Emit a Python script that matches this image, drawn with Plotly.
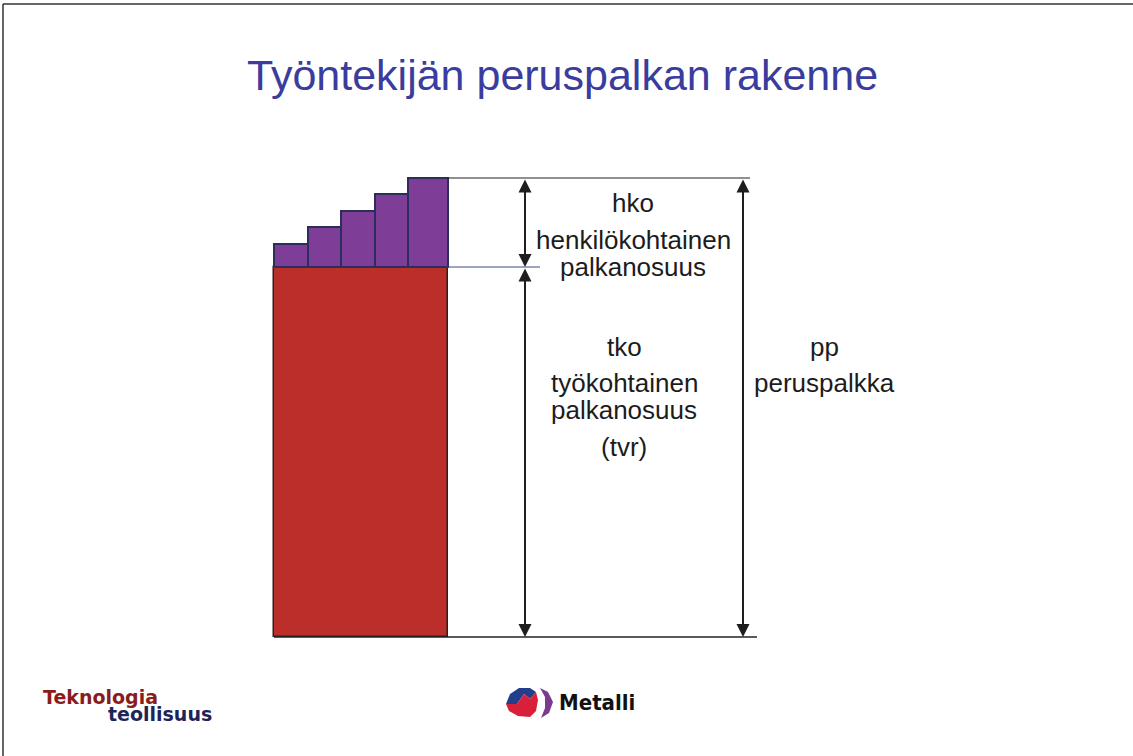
import plotly.graph_objects as go

# Data (heights in chart units)
steps = [23, 40, 56, 73, 89]          # henkilökohtainen osuus, 5 portaita
tko = 370                              # työkohtainen palkanosuus
title = "Työntekijän peruspalkan rakenne"
hko_lines = ["hko", "henkilökohtainen", "palkanosuus"]
tko_lines = ["tko", "työkohtainen", "palkanosuus", "(tvr)"]
pp_lines = ["pp", "peruspalkka"]

W, H = 1133, 756
FONT = "Liberation Sans, Arial, sans-serif"


def px(x):
    return x / W


def py(y):
    return 1 - y / H


n = len(steps)
widths = [1] * (n - 1) + [1.2]          # last step is a bit wider
xs = list(range(n - 1)) + [n - 1 + 0.1]
total = sum(widths)

fig = go.Figure()

# base bar (tko)
fig.add_trace(go.Bar(
    x=[-0.5 + total / 2], y=[tko], width=[total],
    marker=dict(color="#bc2e29", line=dict(color="#2a2020", width=1.5)),
    hoverinfo="skip"))

# stepped purple bars (hko)
fig.add_trace(go.Bar(
    x=xs, y=steps, base=[tko] * n, width=widths,
    marker=dict(color="#7e3e97", line=dict(color="#2b2d5c", width=2)),
    hoverinfo="skip"))

# one step = 33.4 px, first bar left edge at 274.3 px
step_px = 33.4
x0 = -274.3 / step_px - 0.5
x1 = (W - 274.3) / step_px - 0.5
fig.update_xaxes(visible=False, range=[x0, x1], fixedrange=True)
fig.update_yaxes(visible=False, range=[-119, 637], fixedrange=True)

top = tko + max(steps)

# dimension lines
fig.add_shape(type="line", xref="paper", yref="y", x0=px(274), x1=px(757), y0=0, y1=0,
              line=dict(color="#222222", width=1.5))
fig.add_shape(type="line", xref="paper", yref="y", x0=px(447), x1=px(750), y0=top, y1=top,
              line=dict(color="#222222", width=1.2))
fig.add_shape(type="line", xref="paper", yref="y", x0=px(447), x1=px(540), y0=tko, y1=tko,
              line=dict(color="#3a4a82", width=1))

# double arrows
for xa, ya, yb in [(525, tko, top), (525, 0, tko), (743, 0, top)]:
    fig.add_annotation(xref="paper", yref="y", x=px(xa), y=ya, axref="pixel", ayref="y",
                       ax=0, ay=yb, text="", showarrow=True, arrowside="end+start",
                       arrowhead=2, startarrowhead=2, arrowsize=1.3, startarrowsize=1.3,
                       arrowwidth=2, arrowcolor="#1e1e1e", standoff=0, startstandoff=0)


# labels
def label_block(lines, xc, ys):
    for t, y in zip(lines, ys):
        fig.add_annotation(xref="paper", yref="paper", x=px(xc), y=py(y), text=t,
                           showarrow=False, xanchor="center", yanchor="middle",
                           font=dict(family=FONT, size=26, color="#1c1c1c"))


label_block(hko_lines, 633, [203, 240, 267])
label_block(tko_lines, 624, [347, 383, 410, 447])
label_block(pp_lines, 824, [347, 383])

# title
fig.add_annotation(xref="paper", yref="paper", x=px(562), y=py(75), text=title,
                   showarrow=False, xanchor="center", yanchor="middle",
                   font=dict(family=FONT, size=43, color="#3a3c9e"))

# slide border
fig.add_shape(type="line", xref="paper", yref="paper", x0=px(3), x1=1, y0=py(4), y1=py(4),
              line=dict(color="#333333", width=1.5))
fig.add_shape(type="line", xref="paper", yref="paper", x0=px(3), x1=px(3), y0=py(4), y1=0,
              line=dict(color="#333333", width=1.5))

# logos
fig.add_annotation(xref="paper", yref="paper", x=px(41), y=py(697), text="<b>Teknologia</b>",
                   showarrow=False, xanchor="left", yanchor="middle",
                   font=dict(family="DejaVu Sans, sans-serif", size=19, color="#8a1c1c"))
fig.add_annotation(xref="paper", yref="paper", x=px(106), y=py(714), text="<b>teollisuus</b>",
                   showarrow=False, xanchor="left", yanchor="middle",
                   font=dict(family="DejaVu Sans, sans-serif", size=19, color="#1e2458"))
fig.add_annotation(xref="paper", yref="paper", x=px(557), y=py(702), text="<b>Metalli</b>",
                   showarrow=False, xanchor="left", yanchor="middle",
                   font=dict(family="DejaVu Sans Condensed, DejaVu Sans, sans-serif", size=22,
                             color="#111111"))


def pth(points):
    return "M " + " L ".join(f"{px(a)},{py(b)}" for a, b in points) + " Z"


# metalli icon: blue top, red bottom, purple crescent
fig.add_shape(type="path", xref="paper", yref="paper",
              path=pth([(506, 704), (510, 694), (519, 688), (530, 688), (536, 692), (530, 699),
                        (524, 694), (517, 704)]),
              fillcolor="#233f8c", line=dict(width=0))
fig.add_shape(type="path", xref="paper", yref="paper",
              path=pth([(506, 704), (517, 704), (524, 694), (530, 699), (536, 692), (538, 700),
                        (536, 711), (530, 717), (518, 716), (509, 711)]),
              fillcolor="#d8203a", line=dict(width=0))
fig.add_shape(type="path", xref="paper", yref="paper",
              path=pth([(540, 688), (548, 692), (553, 702), (549, 713), (541, 718), (545, 708),
                        (545, 697)]),
              fillcolor="#7a3a8e", line=dict(width=0))

fig.update_layout(
    width=W, height=H,
    margin={"l": 0, "r": 0, "t": 0, "b": 0},
    paper_bgcolor="white", plot_bgcolor="white",
    barmode="overlay", bargap=0, showlegend=False,
)

fig.write_html("out.html", config={"displayModeBar": False},
               post_script="document.body.style.margin='0';")
